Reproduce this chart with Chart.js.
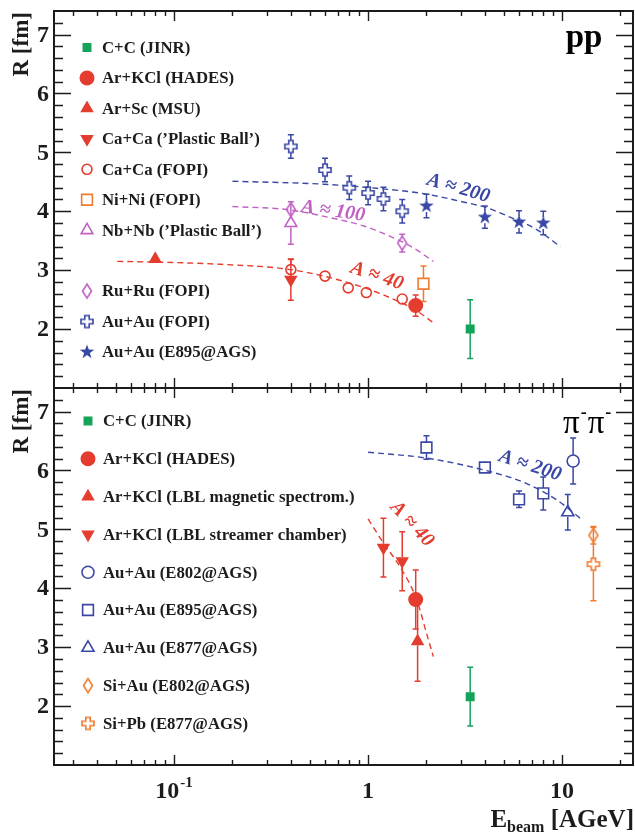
<!DOCTYPE html>
<html lang="en">
<head>
<meta charset="UTF-8" />
<title>Source radius vs beam energy</title>
<script src="https://cdn.jsdelivr.net/npm/chart.js"></script>
<style>
  body { margin: 0; background: #fff; }
  #wrap { position: relative; width: 635px; height: 834px; }
  canvas { position: absolute; left: 0; }
</style>
</head>
<body>
<div id="wrap">
  <canvas id="ppChart" width="635" height="390" style="top:0px"></canvas>
  <canvas id="pipiChart" width="635" height="448" style="top:386px"></canvas>
</div>
<script>
// ---- data, each point: [E_beam (AGeV), R (fm), error (fm)] ----
// pp panel
const ppCC      = [[3.36, 2.00, 0.50]];
const ppHades   = [[1.76, 2.40, 0.18]];
const ppArSc    = [[0.08, 3.19, 0]];
const ppCaPB    = [[0.40, 2.84, 0.35]];
const ppCaFopi  = [[0.40, 3.01, 0.17], [0.60, 2.90, 0], [0.79, 2.70, 0], [0.98, 2.62, 0], [1.50, 2.51, 0]];
const ppNiFopi  = [[1.93, 2.77, 0.30]];
const ppNbPB    = [[0.40, 3.80, 0.36]];
const ppRuFopi  = [[0.40, 4.03, 0.07], [1.50, 3.46, 0.15]];
const ppAuFopi  = [[0.40, 5.10, 0.20], [0.60, 4.70, 0.20], [0.80, 4.40, 0.20], [1.00, 4.31, 0.20], [1.20, 4.21, 0.20], [1.50, 4.00, 0.20]];
const ppAuE895  = [[2.00, 4.09, 0.20], [4.00, 3.90, 0.19], [6.00, 3.82, 0.19], [8.00, 3.80, 0.20]];
// dashed systematics, [E_beam, R]
const ppFit200 = [[0.20, 4.51], [0.59, 4.46], [1.11, 4.39], [1.93, 4.30], [2.98, 4.17], [4.09, 4.06], [5.39, 3.90], [7.4, 3.69], [9.8, 3.40]];
const ppFit100 = [[0.20, 4.08], [0.38, 4.03], [0.64, 3.89], [0.95, 3.75], [1.35, 3.55], [1.71, 3.38], [2.17, 3.15]];
const ppFit40  = [[0.051, 3.15], [0.10, 3.13], [0.173, 3.10], [0.38, 3.02], [0.59, 2.90], [0.98, 2.69], [1.41, 2.48], [1.78, 2.31], [2.17, 2.11]];

// pi-pi- panel
const piCC       = [[3.36, 2.16, 0.50]];
const piHades    = [[1.76, 3.81, 0.50]];
const piLblMag   = [[1.80, 3.10, 0.68]];
const piLblStr   = [[1.20, 4.69, 0.50], [1.50, 4.46, 0.50]];
const piAuE802   = [[11.4, 6.16, 0.39]];
const piAuE895   = [[2.00, 6.39, 0.20], [4.00, 6.05, 0.04], [6.00, 5.51, 0.14], [8.00, 5.61, 0.28]];
const piAuE877   = [[10.7, 5.29, 0.30]];
const piSiAu     = [[14.5, 4.90, 0.15]];
const piSiPb     = [[14.5, 4.41, 0.62]];
const piFit200 = [[1.0, 6.31], [2.0, 6.21], [3.93, 6.01], [6.32, 5.80], [9.3, 5.51], [12.6, 5.17]];
const piFit40  = [[1.0, 5.18], [1.2, 4.77], [1.49, 4.32], [1.78, 3.81], [2.0, 3.24], [2.17, 2.84]];

// axes
const xMin = 0.02406, xMax = 23.2;
const yMin = 1.0, yMax = 7.4;
const yTickLabels = [2, 3, 4, 5, 6, 7];
const xTickLabels = [[0.1, '10', '-1'], [1, '1', ''], [10, '10', '']];

const RED = '#e43d2f', ORANGE = '#ef7b30', MAGENTA = '#c062c4', BLUE = '#3a48a5', GREEN = '#14a35a', INK = '#1c1c1c';
const SERIF = '"Liberation Serif", "DejaVu Serif", serif';

function markerImage(kind, color) {
  const c = document.createElement('canvas');
  c.width = 18; c.height = 18;
  const g = c.getContext('2d');
  g.translate(9, 9);
  g.strokeStyle = color; g.fillStyle = color; g.lineWidth = 1.6;
  g.beginPath();
  if (kind === 'cross') {
    const a = 2.2, L = 6;
    const p = [[-a,-L],[a,-L],[a,-a],[L,-a],[L,a],[a,a],[a,L],[-a,L],[-a,a],[-L,a],[-L,-a],[-a,-a]];
    p.forEach((q, i) => i ? g.lineTo(q[0], q[1]) : g.moveTo(q[0], q[1]));
    g.closePath(); g.stroke();
  } else if (kind === 'star') {
    for (let i = 0; i < 10; i++) {
      const r = i % 2 ? 3.0 : 7.6;
      const t = -Math.PI / 2 + i * Math.PI / 5;
      i ? g.lineTo(r * Math.cos(t), r * Math.sin(t)) : g.moveTo(r * Math.cos(t), r * Math.sin(t));
    }
    g.closePath(); g.fill();
  } else if (kind === 'diamond') {
    g.moveTo(0, -7); g.lineTo(4.5, 0); g.lineTo(0, 7); g.lineTo(-4.5, 0);
    g.closePath(); g.stroke();
  }
  return c;
}

function series(label, pts, color, shape, r, filled, gap, rot) {
  return {
    label: label,
    data: pts.map(p => ({ x: p[0], y: p[1] })),
    errs: pts.map(p => p[2]),
    showLine: false,
    pointStyle: shape,
    pointRotation: rot || 0,
    pointRadius: r,
    pointHoverRadius: r,
    pointBackgroundColor: filled ? color : 'rgba(0,0,0,0)',
    pointBorderColor: color,
    pointBorderWidth: 1.6,
    errColor: color,
    gap: gap
  };
}

function fit(pts, color) {
  return {
    data: pts.map(p => ({ x: p[0], y: p[1] })),
    showLine: true,
    borderColor: color,
    borderWidth: 1.4,
    borderDash: [6, 4],
    pointRadius: 0,
    cubicInterpolationMode: 'monotone',
    fill: false
  };
}

// error bars with end caps, broken around the marker
const errorBars = {
  id: 'errorBars',
  beforeDatasetsDraw(chart) {
    const ctx = chart.ctx, ys = chart.scales.y;
    ctx.save();
    ctx.lineWidth = 1.5;
    chart.data.datasets.forEach((ds, i) => {
      if (!ds.errs) return;
      const meta = chart.getDatasetMeta(i);
      ctx.strokeStyle = ds.errColor;
      meta.data.forEach((el, j) => {
        const e = ds.errs[j];
        if (!e) return;
        const v = ds.data[j].y;
        const top = ys.getPixelForValue(v + e), bot = ys.getPixelForValue(v - e);
        const x = el.x, y = el.y, g = ds.gap;
        ctx.beginPath();
        if (top < y - g) { ctx.moveTo(x, top); ctx.lineTo(x, y - g); ctx.moveTo(x - 3, top); ctx.lineTo(x + 3, top); }
        if (bot > y + g) { ctx.moveTo(x, y + g); ctx.lineTo(x, bot); ctx.moveTo(x - 3, bot); ctx.lineTo(x + 3, bot); }
        ctx.stroke();
      });
    });
    ctx.restore();
  }
};

// frame, inward ticks, tick labels, legend, titles
const decor = {
  id: 'decor',
  afterDatasetsDraw(chart, args, o) {
    const ctx = chart.ctx, a = chart.chartArea, xs = chart.scales.x, ys = chart.scales.y;
    ctx.save();
    ctx.strokeStyle = INK; ctx.fillStyle = INK;

    // ticks
    ctx.lineWidth = 1.4;
    ctx.beginPath();
    for (let v = 1.2; v < yMax; v += 0.2) {
      const major = Math.abs(v - Math.round(v)) < 1e-6;
      const len = major ? 17 : 9, y = Math.round(ys.getPixelForValue(v)) + 0.5;
      ctx.moveTo(a.left, y); ctx.lineTo(a.left + len, y);
      ctx.moveTo(a.right, y); ctx.lineTo(a.right - len, y);
    }
    for (let k = -2; k <= 1; k++) {
      for (let m = 1; m <= 9; m++) {
        const v = m * Math.pow(10, k);
        if (v <= xMin || v >= xMax) continue;
        const len = m === 1 ? 10 : 5, x = Math.round(xs.getPixelForValue(v)) + 0.5;
        ctx.moveTo(x, a.top); ctx.lineTo(x, a.top + len);
        ctx.moveTo(x, a.bottom); ctx.lineTo(x, a.bottom - len);
      }
    }
    ctx.stroke();
    ctx.lineWidth = 2;
    ctx.strokeRect(a.left, a.top, a.right - a.left, a.bottom - a.top);

    // y tick labels
    ctx.font = 'bold 24px ' + SERIF;
    ctx.textAlign = 'right'; ctx.textBaseline = 'middle';
    yTickLabels.forEach(v => ctx.fillText(String(v), a.left - 5, ys.getPixelForValue(v) + 1));

    // x tick labels (bottom panel only)
    if (o.xLabels) {
      xTickLabels.forEach(t => {
        const x = xs.getPixelForValue(t[0]);
        ctx.font = 'bold 24px ' + SERIF;
        const w1 = ctx.measureText(t[1]).width;
        ctx.font = 'bold 15px ' + SERIF;
        const w2 = t[2] ? ctx.measureText(t[2]).width + 1 : 0;
        const x0 = x - (w1 + w2) / 2;
        ctx.textAlign = 'left'; ctx.textBaseline = 'alphabetic';
        ctx.font = 'bold 24px ' + SERIF;
        ctx.fillText(t[1], x0, a.bottom + 33);
        if (t[2]) { ctx.font = 'bold 15px ' + SERIF; ctx.fillText(t[2], x0 + w1 + 1, a.bottom + 22); }
      });
      // x title: E_beam [AGeV]
      ctx.textBaseline = 'alphabetic'; ctx.textAlign = 'left';
      ctx.font = 'bold 25px ' + SERIF;
      const wE = ctx.measureText('E').width, wU = ctx.measureText(' [AGeV]').width;
      ctx.font = 'bold 16px ' + SERIF;
      const wB = ctx.measureText('beam').width;
      let x = a.right + 1 - (wE + wB + wU);
      const base = a.bottom + 62;
      ctx.font = 'bold 25px ' + SERIF; ctx.fillText('E', x, base); x += wE;
      ctx.font = 'bold 16px ' + SERIF; ctx.fillText('beam', x, base + 5); x += wB;
      ctx.font = 'bold 25px ' + SERIF; ctx.fillText(' [AGeV]', x, base);
    }

    // y title
    ctx.save();
    ctx.translate(22, a.top + 1);
    ctx.rotate(-Math.PI / 2);
    ctx.font = 'bold 23px ' + SERIF;
    ctx.textAlign = 'right'; ctx.textBaseline = 'middle';
    ctx.fillText('R [fm]', 0, 0);
    ctx.restore();

    // legend
    let row = 0;
    chart.data.datasets.forEach(ds => {
      if (!ds.errs) return;
      const y = a.top + o.legendTop + o.legendRows[row] * o.legendStep;
      ctx.fillStyle = ds.pointBackgroundColor; ctx.strokeStyle = ds.pointBorderColor; ctx.lineWidth = 1.6;
      Chart.helpers.drawPoint(ctx, { pointStyle: ds.pointStyle, rotation: ds.pointRotation, radius: ds.pointRadius, borderWidth: 1.6 }, o.legendX, y);
      ctx.fillStyle = INK;
      ctx.font = 'bold 16.8px ' + SERIF; ctx.textAlign = 'left'; ctx.textBaseline = 'middle';
      ctx.fillText(ds.label, o.legendX + 15, y + 1);
      row++;
    });

    // curve labels
    o.curveLabels.forEach(c => {
      ctx.save();
      ctx.translate(xs.getPixelForValue(c[1]), ys.getPixelForValue(c[2]));
      ctx.rotate(c[3] * Math.PI / 180);
      ctx.fillStyle = c[4];
      ctx.font = 'italic bold 20px ' + SERIF;
      ctx.textAlign = 'center'; ctx.textBaseline = 'middle';
      ctx.fillText(c[0], 0, 0);
      ctx.restore();
    });

    // panel tag
    ctx.fillStyle = '#000';
    if (o.tag === 'pp') {
      ctx.font = 'bold 33px ' + SERIF; ctx.textAlign = 'center'; ctx.textBaseline = 'alphabetic';
      ctx.fillText('pp', 584, a.top + 36);
    } else {
      ctx.textAlign = 'left'; ctx.textBaseline = 'alphabetic';
      let x = 563;
      for (let k = 0; k < 2; k++) {
        ctx.font = '33px ' + SERIF; ctx.fillText('\u03c0', x, a.top + 45); x += ctx.measureText('\u03c0').width + 1;
        ctx.font = 'bold 18px ' + SERIF; ctx.fillText('-', x, a.top + 30); x += ctx.measureText('-').width + 1;
      }
    }
    ctx.restore();
  }
};

function options(padding, decorOpts) {
  return {
    responsive: false,
    animation: false,
    events: [],
    layout: { padding: padding, autoPadding: false },
    plugins: { legend: { display: false }, tooltip: { enabled: false }, decor: decorOpts },
    scales: {
      x: { type: 'logarithmic', min: xMin, max: xMax, display: false },
      y: { type: 'linear', min: yMin, max: yMax, display: false }
    }
  };
}

const crossImgBlue = markerImage('cross', BLUE), crossImgOrange = markerImage('cross', ORANGE);
const starImg = markerImage('star', BLUE);
const diamondMag = markerImage('diamond', MAGENTA), diamondOrange = markerImage('diamond', ORANGE);

new Chart(document.getElementById('ppChart'), {
  type: 'scatter',
  data: {
    datasets: [
      series('C+C (JINR)', ppCC, GREEN, 'rect', 5.2, true, 4),
      series('Ar+KCl (HADES)', ppHades, RED, 'circle', 6.7, true, 6.7),
      series('Ar+Sc (MSU)', ppArSc, RED, 'triangle', 6.2, true, 4),
      series('Ca+Ca (\u2019Plastic Ball\u2019)', ppCaPB, RED, 'triangle', 6.2, true, 4, 180),
      series('Ca+Ca (FOPI)', ppCaFopi, RED, 'circle', 5, false, 5),
      series('Ni+Ni (FOPI)', ppNiFopi, ORANGE, 'rect', 7.6, false, 5.4),
      series('Nb+Nb (\u2019Plastic Ball\u2019)', ppNbPB, MAGENTA, 'triangle', 6.8, false, 4.5),
      series('Ru+Ru (FOPI)', ppRuFopi, MAGENTA, diamondMag, 7, false, 7),
      series('Au+Au (FOPI)', ppAuFopi, BLUE, crossImgBlue, 6, false, 6),
      series('Au+Au (E895@AGS)', ppAuE895, BLUE, starImg, 7, true, 6),
      fit(ppFit200, BLUE),
      fit(ppFit100, MAGENTA),
      fit(ppFit40, RED)
    ]
  },
  options: options({ left: 54, right: 2, top: 11, bottom: 2 }, {
    xLabels: false, tag: 'pp',
    legendX: 87, legendTop: 36.5, legendStep: 30.45, legendRows: [0, 1, 2, 3, 4, 5, 6, 8, 9, 10],
    curveLabels: [['A \u2248 200', 2.92, 4.39, 16, BLUE], ['A \u2248 100', 0.66, 4.0, 8, MAGENTA], ['A \u2248 40', 1.11, 2.90, 19, RED]]
  }),
  plugins: [errorBars, decor]
});

new Chart(document.getElementById('pipiChart'), {
  type: 'scatter',
  data: {
    datasets: [
      series('C+C (JINR)', piCC, GREEN, 'rect', 5.2, true, 4),
      series('Ar+KCl (HADES)', piHades, RED, 'circle', 6.7, true, 6.7),
      series('Ar+KCl (LBL magnetic spectrom.)', piLblMag, RED, 'triangle', 6.2, true, 4),
      series('Ar+KCl (LBL streamer chamber)', piLblStr, RED, 'triangle', 6.2, true, 4, 180),
      series('Au+Au (E802@AGS)', piAuE802, BLUE, 'circle', 6, false, 6),
      series('Au+Au (E895@AGS)', piAuE895, BLUE, 'rect', 7.6, false, 5.4),
      series('Au+Au (E877@AGS)', piAuE877, BLUE, 'triangle', 7, false, 4.5),
      series('Si+Au (E802@AGS)', piSiAu, ORANGE, diamondOrange, 7, false, 7),
      series('Si+Pb (E877@AGS)', piSiPb, ORANGE, crossImgOrange, 6, false, 6),
      fit(piFit200, BLUE),
      fit(piFit40, RED)
    ]
  },
  options: options({ left: 54, right: 2, top: 2, bottom: 69 }, {
    xLabels: true, tag: 'pipi',
    legendX: 88, legendTop: 33, legendStep: 37.8, legendRows: [0, 1, 2, 3, 4, 5, 6, 7, 8],
    curveLabels: [['A \u2248 200', 6.84, 6.08, 18, BLUE], ['A \u2248 40', 1.68, 5.09, 47, RED]]
  }),
  plugins: [errorBars, decor]
});
</script>
</body>
</html>
